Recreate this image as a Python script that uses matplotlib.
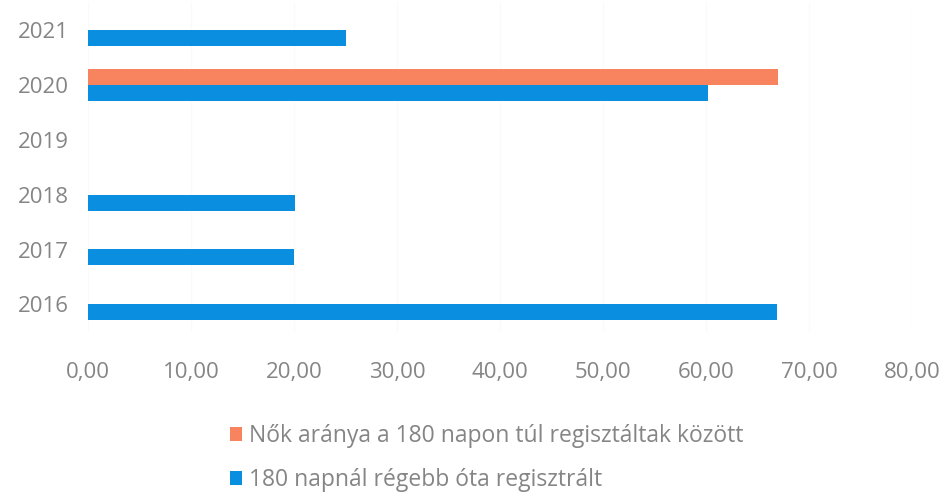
import numpy as np
import matplotlib.pyplot as plt

plt.rcParams['font.family'] = ['Open Sans', 'DejaVu Sans']

years = ['2016', '2017', '2018', '2019', '2020', '2021']
registered_180 = [66.9, 20.0, 20.1, np.nan, 60.2, 25.0]
women_share = [np.nan, np.nan, np.nan, np.nan, 67.0, np.nan]

blue = '#0a8fe0'
orange = '#f7845e'
grey = '#858585'

fig = plt.figure(figsize=(9.5, 4.99), dpi=100)
ax = fig.add_axes([0.093, 0.335, 0.867, 0.66])

y = np.arange(len(years))
h = 0.29
ax.barh(y + h / 2, women_share, height=h, color=orange,
        label='Nők aránya a 180 napon túl regisztáltak között')
ax.barh(y - h / 2, registered_180, height=h, color=blue,
        label='180 napnál régebb óta regisztrált')

ax.set_xlim(0, 80)
ax.set_ylim(-0.5, 5.5)
ax.set_xticks(np.arange(0, 81, 10))
ax.set_xticklabels([f'{v},00' for v in range(0, 81, 10)])
ax.set_yticks(y)
ax.set_yticklabels(years)
ax.tick_params(axis='both', length=0, colors=grey, labelsize=16)
ax.tick_params(axis='x', pad=22)
ax.tick_params(axis='y', pad=14)
ax.grid(axis='x', color='#fafafa', linewidth=0.8)
ax.set_axisbelow(True)
for s in ax.spines.values():
    s.set_visible(False)

fig.legend(loc='upper left', bbox_to_anchor=(0.232, 0.168), frameon=False,
           fontsize=16.5, labelcolor=grey, handlelength=0.55, handleheight=0.55,
           handletextpad=0.3, labelspacing=0.85, borderaxespad=0)

fig.savefig('out.png', dpi=100)
